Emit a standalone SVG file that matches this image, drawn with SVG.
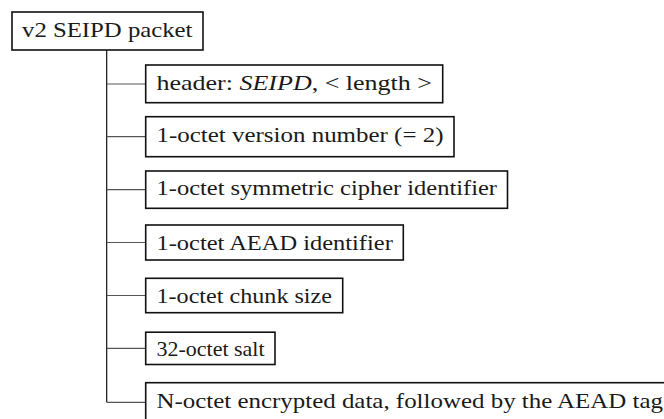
<svg xmlns="http://www.w3.org/2000/svg" width="664" height="419" viewBox="0 0 664 419">
<style>
.box{fill:#fff;stroke:#111;stroke-width:1.6}
.lbl{font-family:'Liberation Serif','DejaVu Serif',serif;font-size:21px;fill:#1a1a1a}
.trunk{stroke:#111;stroke-width:1.2;fill:none}
.branch{stroke:#555;stroke-width:1.2;fill:none}
</style>
<rect width="664" height="419" fill="#fff"/>
<g id="connectors">
<line class="trunk" x1="106.7" y1="50" x2="106.7" y2="402.3"/>
<line class="branch" x1="106.7" y1="84" x2="145.7" y2="84"/>
<line class="branch" x1="106.7" y1="136.7" x2="145.7" y2="136.7"/>
<line class="branch" x1="106.7" y1="189.7" x2="145.7" y2="189.7"/>
<line class="branch" x1="106.7" y1="242.5" x2="145.7" y2="242.5"/>
<line class="branch" x1="106.7" y1="295.5" x2="145.7" y2="295.5"/>
<line class="branch" x1="106.7" y1="348.3" x2="145.7" y2="348.3"/>
<line class="branch" x1="106.7" y1="402.3" x2="145.7" y2="402.3"/>
</g>
<g id="root">
<rect class="box" x="12" y="12" width="191" height="38"/>
<text class="lbl" font-family="Liberation Serif, DejaVu Serif, serif" x="22" y="36.7" textLength="170.5" lengthAdjust="spacingAndGlyphs">v2 SEIPD packet</text>
</g>
<g id="header">
<rect class="box" x="145.7" y="65" width="297" height="37.7"/>
<text class="lbl" font-family="Liberation Serif, DejaVu Serif, serif" x="156.5" y="89.7" textLength="275.5" lengthAdjust="spacingAndGlyphs">header: <tspan font-style="italic">SEIPD</tspan>, &lt; length &gt;</text>
</g>
<g id="version">
<rect class="box" x="145.7" y="116.7" width="308.3" height="40"/>
<text class="lbl" font-family="Liberation Serif, DejaVu Serif, serif" x="156.5" y="142.4" textLength="287" lengthAdjust="spacingAndGlyphs">1-octet version number (= 2)</text>
</g>
<g id="cipher">
<rect class="box" x="145.7" y="171" width="361.8" height="37.3"/>
<text class="lbl" font-family="Liberation Serif, DejaVu Serif, serif" x="156.5" y="195.4" textLength="340.5" lengthAdjust="spacingAndGlyphs">1-octet symmetric cipher identifier</text>
</g>
<g id="aead">
<rect class="box" x="145.7" y="225" width="257.6" height="35"/>
<text class="lbl" font-family="Liberation Serif, DejaVu Serif, serif" x="156.5" y="250.4" textLength="236.3" lengthAdjust="spacingAndGlyphs">1-octet AEAD identifier</text>
</g>
<g id="chunk">
<rect class="box" x="145.7" y="278.3" width="197" height="34.4"/>
<text class="lbl" font-family="Liberation Serif, DejaVu Serif, serif" x="156.5" y="303.4" textLength="175.5" lengthAdjust="spacingAndGlyphs">1-octet chunk size</text>
</g>
<g id="salt">
<rect class="box" x="145.7" y="332.2" width="129.3" height="32.3"/>
<text class="lbl" font-family="Liberation Serif, DejaVu Serif, serif" x="156.5" y="356.2" textLength="108" lengthAdjust="spacingAndGlyphs">32-octet salt</text>
</g>
<g id="data">
<rect class="box" x="145.7" y="382.7" width="527" height="38"/>
<text class="lbl" font-family="Liberation Serif, DejaVu Serif, serif" x="156.5" y="407.7" textLength="506.5" lengthAdjust="spacingAndGlyphs">N-octet encrypted data, followed by the AEAD tag</text>
</g>
</svg>
